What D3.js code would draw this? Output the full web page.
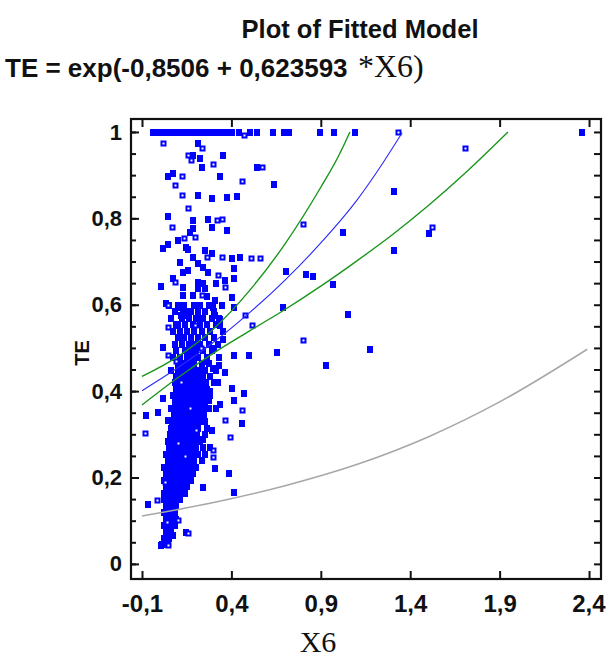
<!DOCTYPE html>
<html>
<head>
<meta charset="utf-8">
<script src="https://cdn.jsdelivr.net/npm/d3@7"></script>
<style>
  body { margin: 0; background: #fff; }
  text { font-family: 'Liberation Sans', Arial, sans-serif; fill: #111; }
</style>
</head>
<body>
<svg id="viz" width="606" height="660"></svg>
<script>
// axis ticks
var xTicks = [-0.1, 0.4, 0.9, 1.4, 1.9, 2.4];
var xTickLabels = ['-0,1', '0,4', '0,9', '1,4', '1,9', '2,4'];
var yTicks = [0, 0.2, 0.4, 0.6, 0.8, 1];
var yTickLabels = ['0', '0,2', '0,4', '0,6', '0,8', '1'];

// fitted model and limits
var fitX = [-0.1, 0.1, 0.3, 0.5, 0.7, 0.9, 1.1, 1.25, 1.355];
var fitY = [0.401, 0.454, 0.513, 0.581, 0.657, 0.743, 0.841, 0.93, 0.998];
var upperX = [-0.1, 0.1, 0.3, 0.5, 0.7, 0.9, 1.0, 1.063];
var upperY = [0.434, 0.48, 0.544, 0.632, 0.741, 0.872, 0.945, 1.0];
var lowerX = [-0.1, 0.1, 0.3, 0.5, 0.7, 0.9, 1.1, 1.3, 1.5, 1.7, 1.947];
var lowerY = [0.368, 0.431, 0.488, 0.539, 0.589, 0.643, 0.701, 0.762, 0.829, 0.902, 1.0];
var predX = [-0.1, 0.3, 0.7, 1.1, 1.5, 1.9, 2.39];
var predY = [0.111, 0.142, 0.181, 0.23, 0.294, 0.375, 0.497];

// observations with TE = 1
var topRowX = [-0.04, -0.02, 0, 0.02, 0.04, 0.06, 0.08, 0.1, 0.12, 0.14, 0.16, 0.18, 0.2,
  0.22, 0.24, 0.26, 0.28, 0.3, 0.32, 0.34, 0.36, 0.38, 0.4, 0.44, 0.5, 0.54, 0.63, 0.69,
  0.72, 0.89, 0.97, 1.09, 2.36];

// dense core of observations, row by row: [TE, X6 values]
var coreRows = [
  [0.60, [0.05, 0.10, 0.13, 0.19, 0.22, 0.27]],
  [0.585, [0.08, 0.15, 0.17, 0.21, 0.25, 0.30]],
  [0.57, [0.06, 0.12, 0.16, 0.20, 0.24, 0.29, 0.33]],
  [0.555, [0.09, 0.14, 0.18, 0.22, 0.26, 0.31]],
  [0.54, [0.07, 0.11, 0.15, 0.19, 0.23, 0.28, 0.35]],
  [0.525, [0.10, 0.13, 0.17, 0.21, 0.25, 0.30]],
  [0.51, [0.08, 0.12, 0.16, 0.19, 0.22, 0.27, 0.32]],
  [0.495, [0.09, 0.14, 0.17, 0.20, 0.24, 0.29]],
  [0.48, [0.07, 0.11, 0.15, 0.18, 0.21, 0.26, 0.33]],
  [0.465, [0.10, 0.13, 0.16, 0.19, 0.23, 0.27]],
  [0.45, [0.06, 0.10, 0.125, 0.15, 0.175, 0.20, 0.225, 0.25, 0.31]],
  [0.435, [0.09, 0.115, 0.14, 0.165, 0.19, 0.215, 0.24, 0.28]],
  [0.42, [0.08, 0.105, 0.13, 0.155, 0.18, 0.205, 0.23, 0.255, 0.30]],
  [0.405, [0.085, 0.11, 0.135, 0.16, 0.185, 0.21, 0.235, 0.26]],
  [0.39, [0.07, 0.095, 0.12, 0.145, 0.17, 0.195, 0.22, 0.245, 0.28]],
  [0.375, [0.08, 0.105, 0.13, 0.155, 0.18, 0.205, 0.23, 0.25]],
  [0.36, [0.06, 0.09, 0.115, 0.14, 0.165, 0.19, 0.215, 0.24, 0.27]],
  [0.345, [0.075, 0.10, 0.125, 0.15, 0.175, 0.20, 0.225, 0.245]],
  [0.33, [0.065, 0.09, 0.115, 0.14, 0.165, 0.19, 0.215, 0.235]],
  [0.315, [0.06, 0.085, 0.11, 0.135, 0.16, 0.185, 0.21, 0.26]],
  [0.30, [0.055, 0.08, 0.105, 0.13, 0.155, 0.18, 0.205, 0.25]],
  [0.285, [0.04, 0.065, 0.09, 0.115, 0.14, 0.165, 0.19, 0.22]],
  [0.27, [0.05, 0.075, 0.10, 0.125, 0.15, 0.175, 0.20, 0.24]],
  [0.255, [0.03, 0.055, 0.08, 0.105, 0.13, 0.155, 0.18, 0.21, 0.25]],
  [0.24, [0.04, 0.065, 0.09, 0.115, 0.14, 0.165, 0.19, 0.23]],
  [0.225, [0.02, 0.045, 0.07, 0.095, 0.12, 0.145, 0.17, 0.20]],
  [0.21, [0.03, 0.055, 0.08, 0.105, 0.13, 0.155, 0.18]],
  [0.195, [0.02, 0.045, 0.07, 0.095, 0.12, 0.145, 0.17]],
  [0.18, [0.03, 0.055, 0.08, 0.105, 0.13, 0.15]],
  [0.165, [0.02, 0.045, 0.07, 0.095, 0.12, 0.14]],
  [0.15, [0.02, 0.05, 0.08, 0.11]],
  [0.135, [0.03, 0.06, 0.09]],
  [0.12, [0.02, 0.05, 0.08]],
  [0.105, [0.03, 0.06, 0.09]],
  [0.09, [0.02, 0.05, 0.08]],
  [0.075, [0.03, 0.06]],
  [0.06, [0.02, 0.05]],
  [0.045, [0.01, 0.04]]
];

// scattered filled observations [X6, TE]
var filledPts = [
  [0.213, 0.975], [0.185, 0.947], [0.224, 0.94], [0.353, 0.947], [0.23, 0.919], [0.543, 0.919],
  [0.045, 0.898], [0.073, 0.905], [0.336, 0.898], [0.633, 0.88], [0.208, 0.854], [0.291, 0.847],
  [0.375, 0.85], [0.431, 0.852], [0.04, 0.806], [0.185, 0.796], [0.269, 0.799],
  [1.304, 0.863], [1.024, 0.769], [1.5, 0.766], [1.309, 0.727], [0.705, 0.678], [0.812, 0.671],
  [0.856, 0.667], [0.963, 0.648], [0.683, 0.595], [1.052, 0.579], [1.17, 0.498], [0.929, 0.461],
  [0.185, 0.778], [0.291, 0.78], [0.375, 0.773], [0.012, 0.731], [0.045, 0.741], [0.096, 0.75],
  [0.168, 0.769], [0.141, 0.734], [0.157, 0.729], [0.252, 0.727], [0.403, 0.708], [0.448, 0.711],
  [0.409, 0.685], [0.208, 0.697], [0.236, 0.688], [0.157, 0.681], [0.124, 0.676], [0.264, 0.676],
  [0.364, 0.657], [0.409, 0.662], [0.068, 0.662], [0.124, 0.641], [0.001, 0.644], [0.208, 0.653],
  [0.241, 0.65], [0.213, 0.639], [0.252, 0.639], [0.129, 0.623], [0.185, 0.623], [0.308, 0.611],
  [0.403, 0.618], [0.03, 0.604], [0.101, 0.595], [0.129, 0.588], [0.297, 0.595], [0.347, 0.6],
  [0.409, 0.595], [0.213, 0.595], [0.213, 0.572], [0.157, 0.576], [0.113, 0.576], [0.101, 0.553],
  [0.308, 0.576], [0.336, 0.553], [0.336, 0.567], [0.012, 0.502], [0.409, 0.484], [0.493, 0.484],
  [0.655, 0.491], [0.364, 0.444], [0.297, 0.454], [0.403, 0.407], [0.465, 0.396], [0.409, 0.38],
  [0.017, 0.384], [-0.016, 0.352], [-0.083, 0.345], [0.459, 0.326], [0.045, 0.333], [0.336, 0.37],
  [0.28, 0.40], [0.32, 0.42], [0.308, 0.222], [0.381, 0.211], [0.241, 0.178], [0.409, 0.167],
  [-0.072, 0.139], [0.001, 0.044], [0.07, 0.067], [0.146, 0.074],
  [0.26, 0.47], [0.30, 0.50], [0.33, 0.46], [0.27, 0.38], [0.31, 0.36], [0.25, 0.33],
  [0.29, 0.31], [0.24, 0.29], [0.28, 0.27], [0.35, 0.52], [0.26, 0.62], [0.31, 0.65],
  [0.18, 0.71], [0.29, 0.72], [0.11, 0.70]
];

// scattered hollow observations [X6, TE]
var openPts = [
  [0.47, 0.993], [1.332, 1.0], [0.017, 0.975], [0.236, 0.963], [0.157, 0.947], [0.174, 0.935],
  [0.297, 0.926], [0.571, 0.919], [0.124, 0.898], [0.459, 0.887], [0.085, 0.877], [0.124, 0.854],
  [0.157, 0.824], [0.319, 0.796], [0.347, 0.799], [1.706, 0.963], [0.8, 0.787], [1.522, 0.78],
  [0.8, 0.519], [0.068, 0.78], [0.135, 0.755], [0.196, 0.757], [0.264, 0.711], [0.347, 0.711],
  [0.51, 0.708], [0.56, 0.708], [0.325, 0.669], [0.085, 0.653], [0.364, 0.641], [0.236, 0.623],
  [0.045, 0.6], [0.045, 0.549], [0.196, 0.553], [0.476, 0.576], [0.515, 0.553], [0.045, 0.484],
  [0.459, 0.356], [0.364, 0.333], [-0.083, 0.303], [0.297, 0.264], [0.297, 0.248], [0.392, 0.294],
  [-0.016, 0.148], [0.029, 0.19], [0.157, 0.072], [0.045, 0.044], [0.04, 0.097], [0.101, 0.102],
  [0.12, 0.42], [0.17, 0.36], [0.09, 0.47], [0.2, 0.31], [0.14, 0.25], [0.23, 0.5], [0.1, 0.28]
];

var margin = { left: 131, top: 119, right: 5, bottom: 81 };
var width = 606 - margin.left - margin.right;
var height = 660 - margin.top - margin.bottom;

var svg = d3.select('#viz');
var g = svg.append('g').attr('transform', 'translate(' + margin.left + ',' + margin.top + ')');

var x = d3.scaleLinear().domain([-0.1615, 2.467]).range([0, width]);
var y = d3.scaleLinear().domain([-0.035, 1.03]).range([height, 0]);

var blue = '#0000ff';

// collect filled points
var allFilled = [];
topRowX.forEach(function (v) { allFilled.push([v, 1]); });
coreRows.forEach(function (r) {
  r[1].forEach(function (v) { allFilled.push([v, r[0]]); });
});
filledPts.forEach(function (p) { allFilled.push(p); });

g.selectAll('rect.filled')
  .data(allFilled)
  .enter()
  .append('rect')
  .attr('class', 'filled')
  .attr('x', function (d) { return Math.round(x(d[0]) - 2.5); })
  .attr('y', function (d) { return Math.round(y(d[1]) - 3); })
  .attr('width', 6)
  .attr('height', 7)
  .attr('shape-rendering', 'crispEdges')
  .style('fill', blue);

g.selectAll('rect.open')
  .data(openPts)
  .enter()
  .append('rect')
  .attr('class', 'open')
  .attr('x', function (d) { return Math.round(x(d[0]) - 2) + 0.5; })
  .attr('y', function (d) { return Math.round(y(d[1]) - 2) + 0.5; })
  .attr('width', 4)
  .attr('height', 4)
  .style('fill', '#fff')
  .style('stroke', blue)
  .style('stroke-width', 2);

// curves
var line = d3.line()
  .x(function (d) { return x(d[0]); })
  .y(function (d) { return y(d[1]); })
  .curve(d3.curveMonotoneX);

var zip = function (a, b) { return a.map(function (v, i) { return [v, b[i]]; }); };

g.append('path').datum(zip(predX, predY)).attr('d', line)
  .style('fill', 'none').style('stroke', '#a8a8a8').style('stroke-width', 1.6);
g.append('path').datum(zip(upperX, upperY)).attr('d', line)
  .style('fill', 'none').style('stroke', '#1a961a').style('stroke-width', 1.4);
g.append('path').datum(zip(lowerX, lowerY)).attr('d', line)
  .style('fill', 'none').style('stroke', '#1a961a').style('stroke-width', 1.4);
g.append('path').datum(zip(fitX, fitY)).attr('d', line)
  .style('fill', 'none').style('stroke', '#2a2aff').style('stroke-width', 1.1);

// axes, ticks pointing inward
var yMinor = d3.range(0, 1.001, 0.05);

var bottomAxis = g.append('g')
  .attr('transform', 'translate(0,' + height + ')')
  .call(d3.axisBottom(x).tickValues(xTicks).tickSize(-8).tickPadding(16)
    .tickFormat(function (d, i) { return xTickLabels[i]; }));
bottomAxis.selectAll('text').style('font-size', '24px').style('font-weight', 'bold').style('fill', '#111');
// keep the last label inside the page
bottomAxis.selectAll('text').filter(function (d, i) { return i === xTicks.length - 1; })
  .attr('text-anchor', 'end').attr('x', 16);

g.append('g')
  .call(d3.axisTop(x).tickValues(xTicks).tickSize(-8).tickFormat(''));

g.append('g')
  .call(d3.axisLeft(y).tickValues(yMinor).tickSize(-5).tickFormat(''));

var leftAxis = g.append('g')
  .call(d3.axisLeft(y).tickValues(yTicks).tickSize(-8).tickPadding(9)
    .tickFormat(function (d, i) { return yTickLabels[i]; }));
leftAxis.selectAll('text').style('font-size', '22px').style('font-weight', 'bold').style('fill', '#111');

g.append('g')
  .attr('transform', 'translate(' + width + ',0)')
  .call(d3.axisRight(y).tickValues(yMinor).tickSize(-7).tickFormat(''));

g.selectAll('.domain').remove();
g.selectAll('.tick line').style('stroke', '#111').style('stroke-width', 2);

g.append('rect')
  .attr('x', 0).attr('y', 0)
  .attr('width', width).attr('height', height)
  .style('fill', 'none').style('stroke', '#111').style('stroke-width', 2.2);

// titles
svg.append('text')
  .attr('x', 360).attr('y', 38)
  .attr('text-anchor', 'middle')
  .attr('textLength', 237).attr('lengthAdjust', 'spacingAndGlyphs')
  .style('font-size', '26px').style('font-weight', 'bold')
  .text('Plot of Fitted Model');

var eq = svg.append('text').attr('x', 5).attr('y', 77);
eq.append('tspan')
  .style('font-size', '26px').style('font-weight', 'bold')
  .text('TE = exp(-0,8506 + 0,623593');
eq.append('tspan')
  .attr('x', 358)
  .style('font-family', "'Liberation Serif', 'Times New Roman', serif")
  .style('font-size', '32px')
  .text('*X6)');

svg.append('text')
  .attr('transform', 'translate(89,353) rotate(-90)')
  .attr('text-anchor', 'middle')
  .style('font-size', '20px').style('font-weight', 'bold')
  .text('TE');

svg.append('text')
  .attr('x', 318).attr('y', 652)
  .attr('text-anchor', 'middle')
  .style('font-family', "'Liberation Serif', 'Times New Roman', serif")
  .style('font-size', '30px')
  .text('X6');
</script>
</body>
</html>
